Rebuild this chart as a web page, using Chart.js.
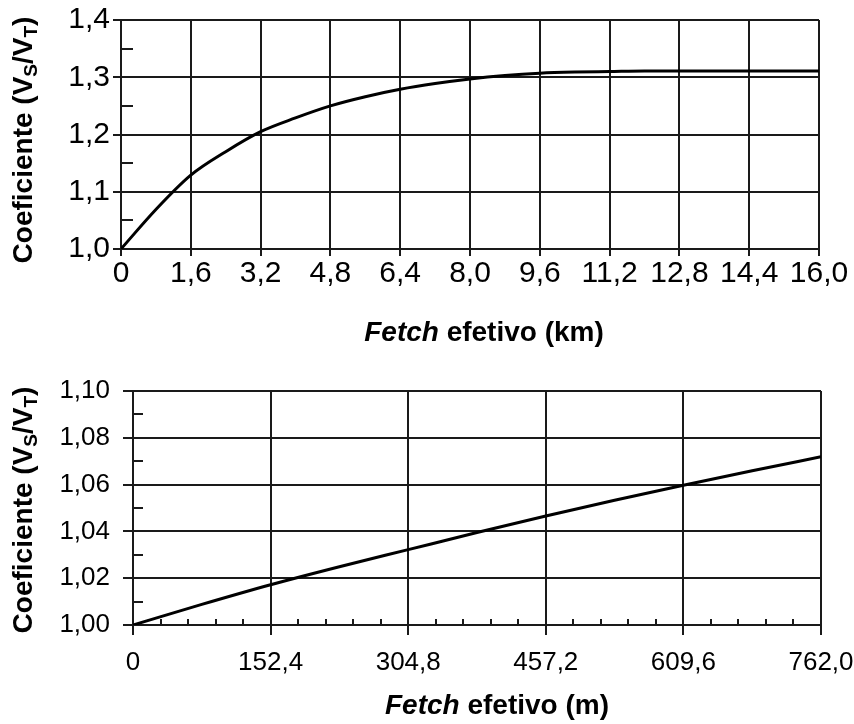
<!DOCTYPE html>
<html lang="pt-BR">
<head>
<meta charset="utf-8">
<title>Coeficiente VS/VT x Fetch efetivo</title>
<script src="https://cdn.jsdelivr.net/npm/chart.js@4"></script>
<style>
  body { margin: 0; background: #fff; }
  .bloco { position: relative; width: 854px; height: 362px; }
</style>
</head>
<body>
<div class="bloco"><canvas id="graficoKm" width="854" height="362"></canvas></div>
<div class="bloco"><canvas id="graficoM" width="854" height="362"></canvas></div>
<script>
// grafico de cima: fetch em km
const fetchKm = [0, 0.8, 1.6, 2.4, 3.2, 4.0, 4.8, 5.6, 6.4, 7.2, 8.0, 8.8, 9.6, 10.4, 11.2, 12.0, 12.8, 13.6, 14.4, 15.2, 16.0];
const coefKm = [1.000, 1.069, 1.129, 1.170, 1.205, 1.229, 1.250, 1.266, 1.279, 1.289, 1.297, 1.303, 1.307, 1.309, 1.310, 1.311, 1.311, 1.311, 1.311, 1.311, 1.311];
const ticksXKm = [0, 1.6, 3.2, 4.8, 6.4, 8.0, 9.6, 11.2, 12.8, 14.4, 16.0];
const ticksYKm = [1.0, 1.1, 1.2, 1.3, 1.4];
const menoresYKm = [1.05, 1.15, 1.25, 1.35];

// grafico de baixo: fetch em metros
const fetchM = [0, 76.2, 152.4, 228.6, 304.8, 381.0, 457.2, 533.4, 609.6, 685.8, 762.0];
const coefM = [1.0000, 1.0088, 1.0172, 1.0249, 1.0322, 1.0395, 1.0466, 1.0533, 1.0597, 1.0659, 1.0719];
const ticksXM = [0, 152.4, 304.8, 457.2, 609.6, 762.0];
const ticksYM = [1.00, 1.02, 1.04, 1.06, 1.08, 1.10];
const menoresXM = [30.48, 60.96, 91.44, 121.92, 182.88, 213.36, 243.84, 274.32, 335.28, 365.76, 396.24, 426.72,
  487.68, 518.16, 548.64, 579.12, 640.08, 670.56, 701.04, 731.52];
const menoresYM = [1.01, 1.03, 1.05, 1.07, 1.09];

const corLinha = "#1a1a1a";
const fonte = "'Liberation Sans', Arial, sans-serif";

const marcasMenores = {
  id: "marcasMenores",
  afterDraw(chart, args, opts) {
    const { ctx, chartArea, scales } = chart;
    ctx.save();
    ctx.strokeStyle = corLinha;
    ctx.lineWidth = 2;
    (opts.y || []).forEach((v) => {
      const py = Math.round(scales.y.getPixelForValue(v));
      ctx.beginPath();
      ctx.moveTo(chartArea.left, py);
      ctx.lineTo(chartArea.left + opts.tamY, py);
      ctx.stroke();
    });
    (opts.x || []).forEach((v) => {
      const px = Math.round(scales.x.getPixelForValue(v));
      ctx.beginPath();
      ctx.moveTo(px, chartArea.bottom);
      ctx.lineTo(px, chartArea.bottom - opts.tamX);
      ctx.stroke();
    });
    ctx.restore();
  },
};

const titulos = {
  id: "titulos",
  afterDraw(chart, args, opts) {
    const ctx = chart.ctx;
    ctx.save();
    ctx.fillStyle = "#000";
    ctx.textBaseline = "alphabetic";

    // titulo do eixo y com subscritos
    const partes = [
      { t: "Coeficiente (V", f: "bold 28px " + fonte, dy: 0 },
      { t: "S", f: "bold 19px " + fonte, dy: 5 },
      { t: "/V", f: "bold 28px " + fonte, dy: 0 },
      { t: "T", f: "bold 19px " + fonte, dy: 5 },
      { t: ")", f: "bold 28px " + fonte, dy: 0 },
    ];
    let total = 0;
    partes.forEach((p) => { ctx.font = p.f; total += ctx.measureText(p.t).width; });
    ctx.translate(opts.yBase, opts.yCentro);
    ctx.rotate(-Math.PI / 2);
    let pos = -total / 2;
    partes.forEach((p) => {
      ctx.font = p.f;
      ctx.fillText(p.t, pos, p.dy);
      pos += ctx.measureText(p.t).width;
    });
    ctx.setTransform(1, 0, 0, 1, 0, 0);

    // titulo do eixo x: Fetch em italico
    const p1 = "Fetch";
    const p2 = " efetivo (" + opts.unidade + ")";
    ctx.font = "italic bold 28px " + fonte;
    const w1 = ctx.measureText(p1).width;
    ctx.font = "bold 28px " + fonte;
    const w2 = ctx.measureText(p2).width;
    const x0 = opts.xCentro - (w1 + w2) / 2;
    ctx.font = "italic bold 28px " + fonte;
    ctx.fillText(p1, x0, opts.xBase);
    ctx.font = "bold 28px " + fonte;
    ctx.fillText(p2, x0 + w1, opts.xBase);
    ctx.restore();
  },
};

function montarGrafico(id, xs, ys, cfg) {
  const pontos = xs.map((x, i) => ({ x: x, y: ys[i] }));
  const grade = (tam) => ({ color: corLinha, lineWidth: 2, tickLength: tam, tickColor: corLinha, tickWidth: 2 });
  return new Chart(document.getElementById(id), {
    type: "line",
    data: {
      datasets: [{
        data: pontos,
        borderColor: "#000",
        borderWidth: 3,
        pointRadius: 0,
        fill: false,
        cubicInterpolationMode: "monotone",
      }],
    },
    options: {
      responsive: false,
      animation: false,
      events: [],
      layout: { padding: cfg.padding },
      plugins: {
        legend: { display: false },
        tooltip: { enabled: false },
        marcasMenores: cfg.menores,
        titulos: cfg.titulos,
      },
      scales: {
        x: {
          type: "linear",
          min: cfg.xTicks[0],
          max: cfg.xTicks[cfg.xTicks.length - 1],
          grid: grade(cfg.tickX),
          border: { display: true, color: corLinha, width: 2 },
          ticks: {
            color: "#000",
            font: { family: fonte, size: cfg.fonteTicks },
            padding: cfg.padX,
            maxRotation: 0,
            autoSkip: false,
            callback: (v) => (v === 0 ? "0" : v.toFixed(1).replace(".", ",")),
          },
          afterBuildTicks: (s) => { s.ticks = cfg.xTicks.map((v) => ({ value: v })); },
          afterFit: (s) => {
            s.height = cfg.alturaX;
            s.paddingLeft = 0;
            s.paddingRight = 0;
          },
        },
        y: {
          type: "linear",
          min: cfg.yTicks[0],
          max: cfg.yTicks[cfg.yTicks.length - 1],
          grid: grade(cfg.tickY),
          border: { display: true, color: corLinha, width: 2 },
          ticks: {
            color: "#000",
            font: { family: fonte, size: cfg.fonteTicks },
            padding: cfg.padY,
            autoSkip: false,
            callback: (v) => v.toFixed(cfg.casasY).replace(".", ","),
          },
          afterBuildTicks: (s) => { s.ticks = cfg.yTicks.map((v) => ({ value: v })); },
          afterFit: (s) => {
            s.width = cfg.larguraY;
            s.paddingTop = 0;
            s.paddingBottom = 0;
          },
        },
      },
    },
    plugins: [marcasMenores, titulos],
  });
}

montarGrafico("graficoKm", fetchKm, coefKm, {
  padding: { top: 20, right: 35, left: 0, bottom: 0 },
  xTicks: ticksXKm,
  yTicks: ticksYKm,
  casasY: 1,
  fonteTicks: 30,
  tickX: 7,
  tickY: 8,
  padX: 0,
  padY: 3,
  alturaX: 113,
  larguraY: 121,
  menores: { y: menoresYKm, tamY: 12, x: [], tamX: 0 },
  titulos: { yBase: 32, yCentro: 140, xCentro: 484, xBase: 341, unidade: "km" },
});

montarGrafico("graficoM", fetchM, coefM, {
  padding: { top: 29, right: 33, left: 0, bottom: 0 },
  xTicks: ticksXM,
  yTicks: ticksYM,
  casasY: 2,
  fonteTicks: 26,
  tickX: 10,
  tickY: 10,
  padX: 12,
  padY: 13,
  alturaX: 99,
  larguraY: 133,
  menores: { y: menoresYM, tamY: 10, x: menoresXM, tamX: 6 },
  titulos: { yBase: 32, yCentro: 148, xCentro: 497, xBase: 352, unidade: "m" },
});
</script>
</body>
</html>
